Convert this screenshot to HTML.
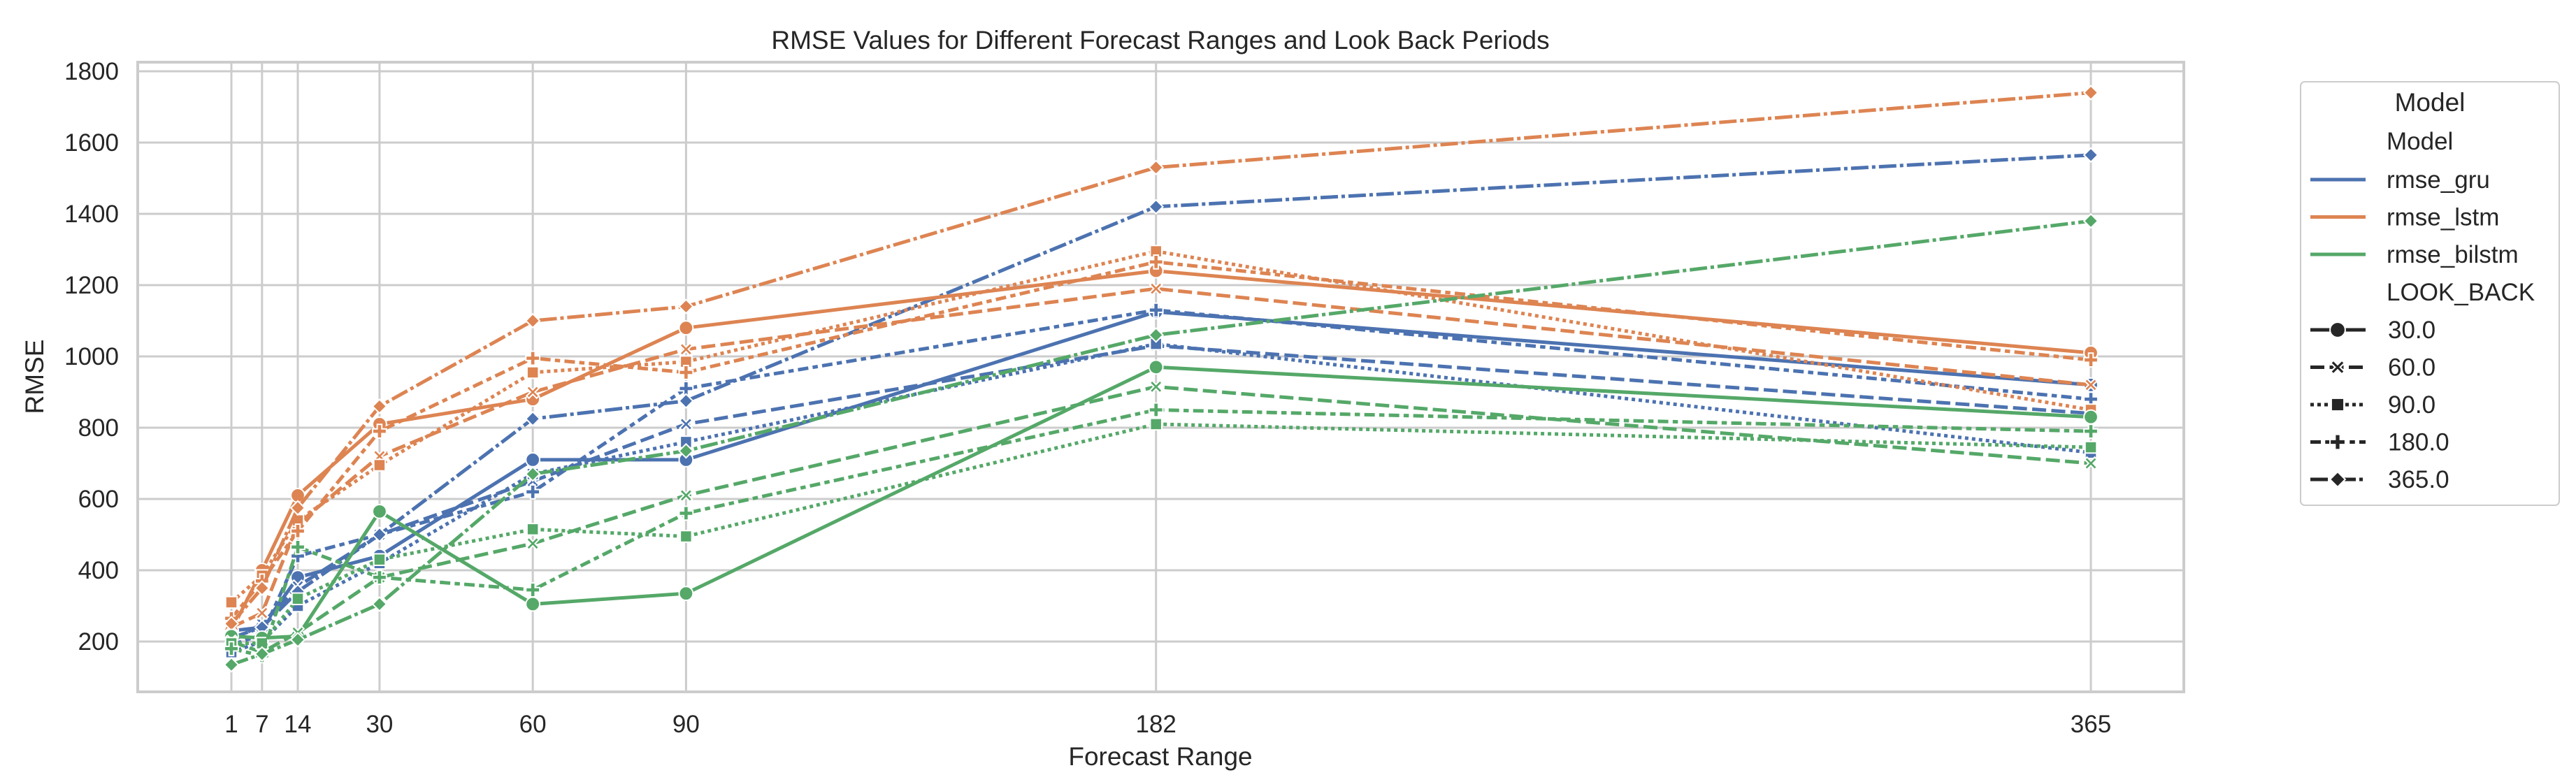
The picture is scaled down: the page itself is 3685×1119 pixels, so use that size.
<!DOCTYPE html>
<html><head><meta charset="utf-8"><style>
body{margin:0;background:#fff;}
svg text{font-family:"Liberation Sans",Arial,sans-serif;fill:#262626;}
</style></head><body>
<svg id="chart" width="3685" height="1114" viewBox="0 0 3685 1114" xmlns="http://www.w3.org/2000/svg">
<rect width="3685" height="1114" fill="#fff"/>
<g id="grid"></g>
<rect x="197" y="89" width="2927" height="901" fill="none" stroke="#cccccc" stroke-width="4"/>
<g id="series"></g>
<g id="ticks"></g>
<text x="1660" y="70" font-size="37" text-anchor="middle">RMSE Values for Different Forecast Ranges and Look Back Periods</text>
<text x="1660" y="1095" font-size="37" text-anchor="middle">Forecast Range</text>
<text x="0" y="0" font-size="37" text-anchor="middle" transform="translate(62,539) rotate(-90)">RMSE</text>
<g id="legend">
<rect x="3291" y="117" width="370" height="606" rx="6" fill="#fff" stroke="#cccccc" stroke-width="2"/>
</g>
</svg>
<script>
const forecastRanges=[1,7,14,30,60,90,182,365];
const yTicks=[200,400,600,800,1000,1200,1400,1600,1800];
const models=["rmse_gru","rmse_lstm","rmse_bilstm"];
const lookBacks=["30.0","60.0","90.0","180.0","365.0"];
const gru_30=[230,240,380,440,710,710,1125,920];
const gru_60=[200,250,355,500,650,810,1030,840];
const gru_90=[170,200,300,420,670,760,1035,730];
const gru_180=[190,220,440,500,620,910,1130,880];
const gru_365=[210,240,340,500,825,875,1420,1565];
const lstm_30=[230,400,610,810,880,1080,1240,1010];
const lstm_60=[240,280,530,720,900,1020,1190,920];
const lstm_90=[310,385,540,695,955,985,1295,850];
const lstm_180=[265,370,510,790,995,955,1265,990];
const lstm_365=[250,350,575,860,1100,1140,1530,1740];
const bilstm_30=[215,210,215,565,305,335,970,830];
const bilstm_60=[200,170,225,380,475,610,915,700];
const bilstm_90=[195,195,320,430,515,495,810,745];
const bilstm_180=[180,160,465,380,345,560,850,790];
const bilstm_365=[135,165,205,305,670,735,1060,1380];
const seriesData={rmse_gru:[gru_30,gru_60,gru_90,gru_180,gru_365],rmse_lstm:[lstm_30,lstm_60,lstm_90,lstm_180,lstm_365],rmse_bilstm:[bilstm_30,bilstm_60,bilstm_90,bilstm_180,bilstm_365]};

const NS="http://www.w3.org/2000/svg";
const colors={rmse_gru:"#4c72b0",rmse_lstm:"#dd8452",rmse_bilstm:"#55a868"};
const LW=5;
const dashes=["",`${4*LW},${1.5*LW}`,`${1*LW},${1*LW}`,`${3*LW},${1.25*LW},${1.5*LW},${1.25*LW}`,`${5*LW},${1*LW},${1*LW},${1*LW}`];
function xs(d){return 331+(d-1)*(2991-331)/364;}
function ys(v){return 1020-v*0.51;}
function mk(tag,attrs,parent){const e=document.createElementNS(NS,tag);for(const k in attrs)e.setAttribute(k,attrs[k]);parent.appendChild(e);return e;}

const grid=document.getElementById('grid'),ticks=document.getElementById('ticks');
yTicks.forEach(v=>{
 const l=mk('line',{x1:197,x2:3124,y1:ys(v),y2:ys(v),stroke:'#cccccc','stroke-width':3},grid);
 
 
 const t=mk('text',{x:170,y:ys(v)+12,'font-size':35,'text-anchor':'end'},ticks);
 t.textContent=v;
 
 
});
forecastRanges.forEach(d=>{
 const l=mk('line',{x1:xs(d),x2:xs(d),y1:89,y2:990,stroke:'#cccccc','stroke-width':3},grid);
 
 
 const t=mk('text',{x:xs(d),y:1048,'font-size':35,'text-anchor':'middle'},ticks);
 t.textContent=d;
 
 
});

function marker(i,x,y,c,parent,s){
 s=(s||1)*1.1;let e;
 const st={fill:c,stroke:'#fff','stroke-width':2};
 if(i===0)e=mk('circle',Object.assign({cx:x,cy:y,r:9*s},st),parent);
 else if(i===1){const a=8*s,b=3*s;e=mk('polygon',Object.assign({points:[[-a,-a+b],[-a+b,-a],[0,-b],[a-b,-a],[a,-a+b],[b,0],[a,a-b],[a-b,a],[0,b],[-a+b,a],[-a,a-b],[-b,0]].map(p=>(x+p[0])+','+(y+p[1])).join(' ')},st),parent);}
 else if(i===2)e=mk('rect',Object.assign({x:x-7.5*s,y:y-7.5*s,width:15*s,height:15*s},st),parent);
 else if(i===3){const a=9*s,b=3*s;e=mk('polygon',Object.assign({points:[[-b,-a],[b,-a],[b,-b],[a,-b],[a,b],[b,b],[b,a],[-b,a],[-b,b],[-a,b],[-a,-b],[-b,-b]].map(p=>(x+p[0])+','+(y+p[1])).join(' ')},st),parent);}
 else e=mk('polygon',Object.assign({points:`${x},${y-9*s} ${x+9*s},${y} ${x},${y+9*s} ${x-9*s},${y}`},st),parent);
 return e;
}

const sg=document.getElementById('series');
models.forEach(m=>{
 seriesData[m].forEach((vals,i)=>{
  const g=mk('g',{},sg);
  
  
  const pts=vals.map((v,j)=>xs(forecastRanges[j])+','+ys(v)).join(' ');
  const pl=mk('polyline',{points:pts,fill:'none',stroke:colors[m],'stroke-width':LW,'stroke-dasharray':dashes[i]||'none','stroke-linejoin':'round'},g);
  
  
  vals.forEach((v,j)=>{
   const e=marker(i,xs(forecastRanges[j]),ys(v),colors[m],g);
   
   
  });
 });
});

const lg=document.getElementById('legend');
function ltext(str,x,y,size,anchor){const t=mk('text',{x:x,y:y,'font-size':size,'text-anchor':anchor||'start'},lg);t.textContent=str;return t;}
ltext('Model',3476,159,37,'middle');
ltext('Model',3414,214,35);
models.forEach((m,k)=>{
 const y=257+k*53.5;
 const l=mk('line',{x1:3305,x2:3384,y1:y,y2:y,stroke:colors[m],'stroke-width':LW},lg);
 
 
 ltext(m,3414,y+12,35);
});
ltext('LOOK_BACK',3414,430,35);
lookBacks.forEach((lb,i)=>{
 const y=472+i*53.5;
 const l=mk('line',{x1:3305,x2:3384,y1:y,y2:y,stroke:'#262626','stroke-width':LW,'stroke-dasharray':dashes[i]||'none'},lg);
 
 
 const e=marker(i,3344,y,'#262626',lg,1.1);
 
 
 ltext(lb,3416,y+12,35);
});
</script>
</body></html>
